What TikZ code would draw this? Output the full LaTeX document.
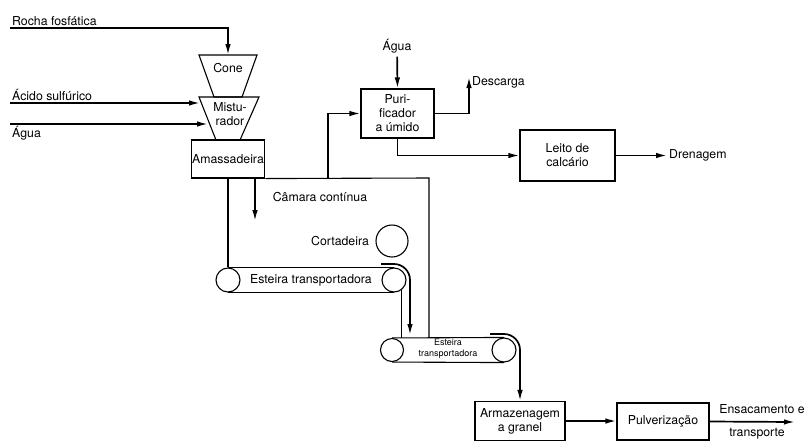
\documentclass[tikz,border=0pt]{standalone}
\usepackage{fontspec}
\setmainfont{TeX Gyre Heros}
\usetikzlibrary{arrows.meta,positioning}

\begin{document}
\begin{tikzpicture}[x=1pt,y=-1pt,
  every node/.style={font=\fontsize{12.3}{14}\selectfont},
  flow/.style={line width=1.7pt,-{Latex[length=11pt,width=5.5pt]}},
  wall/.style={line width=1.1pt},
  unit/.style={draw,line width=1.1pt,align=center,inner sep=1pt},
  roller/.style={draw,circle,line width=1.1pt,minimum size=24pt,inner sep=0pt}]
  \useasboundingbox (0,0) rectangle (808,440);

  \draw[wall] (199,55) -- (257,55) -- (242,97) -- (214,97) -- cycle;
  \draw[wall] (199,97) -- (259,97) -- (240,140) -- (216,140) -- cycle;
  \node (cone) at (228,68) {Cone};
  \node[align=center] (mist) at (230,114) {Mistu-\\rador};
  \node[unit,minimum width=72pt,minimum height=38pt] (amass) at (228,159) {Amassadeira};

  \coordinate (rocha) at (10,28);
  \coordinate (coneIn) at (228,55);
  \coordinate (acido) at (10,103);
  \coordinate (mistA) at (200,103);
  \coordinate (agua) at (10,124);
  \coordinate (mistB) at (208,124);
  \draw[flow] (rocha) -| (coneIn);
  \draw[flow] (acido) -- (mistA);
  \draw[flow] (agua) -- (mistB);
  \node[above right,inner sep=2pt] (lrocha) at (rocha) {Rocha fosfática};
  \node[above right,inner sep=2pt] (lacido) at (acido) {Ácido sulfúrico};
  \node[below right,inner sep=2pt] (lagua) at (agua) {Água};

  \node[roller] (b1l) at (228,280) {};
  \node[roller] (b1r) at (394,280) {};
  \draw[wall] (b1l.north) -- (b1r.north);
  \draw[wall] (b1l.south) -- (b1r.south);
  \node (lb1) at (311,280) {Esteira transportadora};
  \node[draw,circle,line width=1.1pt,minimum size=32pt,inner sep=0pt] (cort) at (392,241) {};
  \node[left=3pt of cort] (lcort) {Cortadeira};

  \node[roller,minimum size=23pt] (b2l) at (392,350) {};
  \node[roller] (b2r) at (504,350) {};
  \draw[wall] (b2l.north) -- (b2r.north);
  \draw[wall] (b2l.south) -- (b2r.south);
  \node[font=\fontsize{9}{11}\selectfont,align=center] (lb2) at (448,349) {Esteira\\transportadora};

  \coordinate (gas) at (328,178);
  \coordinate (wallTop) at (429,178);
  \coordinate (dropTop) at (255,178);
  \coordinate (dropEnd) at (255,221);
  \draw[wall] (amass.south east) -- (wallTop) -- (wallTop |- b2l.north);
  \draw[wall] (amass.south) -- (b1l.north);
  \draw[wall] (b1r.-54) -- (b1r.-54 |- b2l.north);
  \draw[flow] (dropTop) -- (dropEnd);
  \node (lcam) at (320,197) {Câmara contínua};

  \node[unit,minimum width=73pt,minimum height=49pt] (puri) at (397.5,113.5) {Puri-\\ficador\\a úmido};
  \node (aguaP) at (397,46) {Água};
  \coordinate (desc) at (469,77);
  \node[right,inner sep=2pt] (ldesc) at (470,82) {Descarga};
  \node[unit,minimum width=95pt,minimum height=51pt] (leito) at (567.5,155.5) {Leito de\\calcário};
  \node[right,inner sep=2pt] (dren) at (667,155.5) {Drenagem};
  \draw[flow] (gas) |- (puri.west);
  \draw[flow] (aguaP) -- (puri.north);
  \draw[flow] (puri.east) -| (desc);
  \draw[flow] (puri.south) |- (leito.west);
  \draw[flow] (leito.east) -- (dren.west);

  \coordinate (cut) at (381,264);
  \coordinate (fall) at (410,335);
  \draw[flow] (cut) -- (394,264) arc[start angle=-90,end angle=0,radius=16] -- (fall);

  \node[unit,minimum width=90pt,minimum height=39pt] (armaz) at (520,421) {Armazenagem\\a granel};
  \node[unit,minimum width=92pt,minimum height=37pt] (pulv) at (663,421.5) {Pulverização};
  \coordinate (store) at (490,334);
  \draw[flow] (store) -- (504,334) arc[start angle=-90,end angle=0,radius=16] -- (armaz.north);
  \draw[flow] (armaz.east) -- (armaz.east -| pulv.west);
  \coordinate (saida) at (795,422);
  \draw[flow] (pulv.east) -- (saida);
  \node (lens) at (762,409) {Ensacamento e};
  \node (ltrans) at (757,434) {transporte};
\end{tikzpicture}
\end{document}
